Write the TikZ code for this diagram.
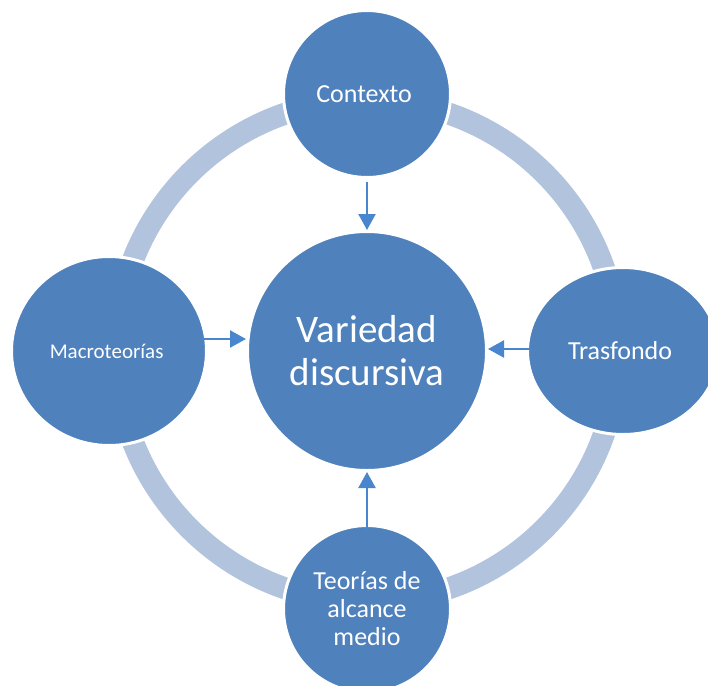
\documentclass[tikz,border=0pt]{standalone}
\usepackage{fontspec}
\setmainfont{Carlito}
\usetikzlibrary{shapes.geometric,arrows.meta}
\definecolor{bubbleblue}{RGB}{79,129,189}
\definecolor{ringblue}{RGB}{178,195,222}
\definecolor{arrowblue}{RGB}{74,134,205}
\tikzstyle{bubble}=[ellipse, fill=bubbleblue, draw=white, line width=3pt,
        text=white, align=center, inner sep=0pt, font=\fontsize{26}{28}\selectfont]
\tikzstyle{ring}=[draw=ringblue, line width=22pt]
\tikzstyle{flow}=[draw=arrowblue, line width=2.2pt, -{Triangle[length=16pt,width=17pt]}]

\begin{document}
\begin{tikzpicture}[x=1pt,y=-1pt]
        \useasboundingbox (0,0) rectangle (708,685);
        \clip (0,0) rectangle (708,685);
        \coordinate (hub) at (367,351);
        \draw [ring] (hub) circle [radius=251];
        \node (var) [bubble, minimum width=239pt, minimum height=239pt,
          font=\fontsize{39}{43}\selectfont] at (hub)
        {
          Variedad\\discursiva
        };
        \node (ctx) [bubble, minimum width=167pt, minimum height=167pt] at (367,94)
        {
          Contexto
        };
        \node (macro) [bubble, minimum width=195pt, minimum height=189pt,
          font=\fontsize{21}{24}\selectfont] at (109,351)
        {
          Macroteorías
        };
        \node (trasf) [bubble, minimum width=191pt, minimum height=167pt] at (623,351)
        {
          Trasfondo
        };
        \node (mid) [bubble, minimum width=167pt, minimum height=167pt] at (367,609)
        {
          Teorías de\\alcance\\medio
        };
        \draw [flow, shorten <=3pt] (ctx) -- (var);
        \draw [flow, shorten <=-6pt] (mid) -- (var);
        \draw [flow, shorten <=-7pt] ([yshift=12pt]macro.east) -- ([yshift=12pt]var.west);
        \draw [flow, shorten <=-6pt] ([yshift=2pt]trasf.west) -- ([yshift=2pt]var.east);
\end{tikzpicture}
\end{document}
